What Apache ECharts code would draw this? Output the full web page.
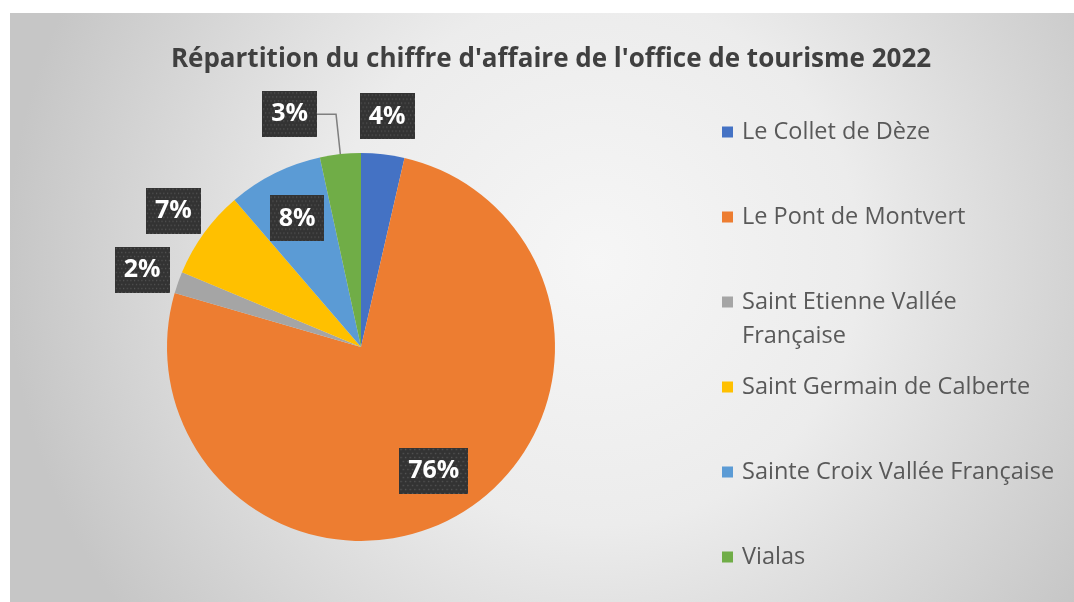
<!DOCTYPE html>
<html>
<head>
<meta charset="utf-8">
<script src="https://cdn.jsdelivr.net/npm/echarts@6/dist/echarts.min.js"></script>
<style>
  html, body { margin: 0; padding: 0; background: #fff; }
  #chart { width: 1074px; height: 602px; }
</style>
</head>
<body>
<div id="chart"></div>
<script>
const communes = ['Le Collet de Dèze', 'Le Pont de Montvert', 'Saint Etienne Vallée Française', 'Saint Germain de Calberte', 'Sainte Croix Vallée Française', 'Vialas'];
const shares = [3.6, 75.9, 1.8, 7.4, 7.9, 3.4];
const colors = ['#4472C4', '#ED7D31', '#A5A5A5', '#FFC000', '#5B9BD5', '#70AD47'];

// where each label goes (like Excel "best fit")
const labelMode = ['radial', 'inside', 'radial', 'radial', 'inside', 'leader'];
const wrappedLegend = ['Saint Etienne Vallée Française'];

const pieCenter = [361, 347];
const pieRadius = 194;
const insideRatio = 0.74;

// dark dotted fill of the data labels
function makeDots() {
  const c = document.createElement('canvas');
  c.width = 60; c.height = 46;
  const ctx = c.getContext('2d');
  ctx.fillStyle = '#333333';
  ctx.fillRect(0, 0, c.width, c.height);
  ctx.fillStyle = '#575757';
  for (let y = 1; y < c.height; y += 4) {
    for (let x = (y % 8 === 1 ? 1 : 3); x < c.width; x += 4) {
      ctx.fillRect(x, y, 1.3, 1.3);
    }
  }
  return c;
}
const dots = makeDots();

const pieData = communes.map((name, i) => {
  const item = { name: name, value: shares[i], itemStyle: { color: colors[i] } };
  const mode = labelMode[i];
  if (mode === 'inside') {
    item.label = { position: 'inside' };
    item.labelLine = { show: false };
  } else if (mode === 'radial') {
    item.label = { position: 'outside' };
    item.labelLine = { show: true, length: 38, length2: 0, lineStyle: { opacity: 0 } };
  } else {
    item.label = { position: 'outside', distanceToLabelLine: 0 };
    item.labelLine = { show: true, length: 40, length2: 19, lineStyle: { color: '#7f7f7f', width: 1.5 } };
  }
  return item;
});

const chart = echarts.init(document.getElementById('chart'), null, { renderer: 'canvas' });

chart.setOption({
  animation: false,
  graphic: [{
    type: 'rect',
    left: 10,
    top: 13,
    silent: true,
    z: -10,
    shape: { width: 1064, height: 589 },
    style: {
      fill: {
        type: 'radial', x: 0.55, y: 0.42, r: 1,
        colorStops: [
          { offset: 0, color: '#f6f6f6' },
          { offset: 0.45, color: '#ececec' },
          { offset: 1, color: '#c6c6c6' }
        ]
      }
    }
  }],
  title: {
    text: "Répartition du chiffre d'affaire de l'office de tourisme 2022",
    left: 551,
    textAlign: 'center',
    top: 47,
    padding: 0,
    textStyle: { fontFamily: 'Open Sans', fontSize: 26, fontWeight: 'bold', color: '#404040' }
  },
  legend: {
    orient: 'vertical',
    left: 722,
    top: 81,
    height: 580,
    padding: 0,
    itemGap: -17,
    itemWidth: 11,
    itemHeight: 11,
    icon: 'rect',
    selectedMode: false,
    // a wrapped entry keeps its first line level with the marker, as in Excel
    formatter: name => wrappedLegend.indexOf(name) >= 0 ? '\n' + name : name,
    textStyle: {
      fontFamily: 'Open Sans', fontSize: 23.5, color: '#595959',
      lineHeight: 34, padding: [34, 0, 34, 4]
    },
    data: communes.map(name => wrappedLegend.indexOf(name) >= 0
      ? { name: name, textStyle: { width: 260, overflow: 'break', padding: [0, 0, 0, 4] } }
      : name)
  },
  series: [{
    type: 'pie',
    center: pieCenter,
    radius: pieRadius,
    startAngle: 90,
    percentPrecision: 0,
    avoidLabelOverlap: false,
    data: pieData,
    label: {
      formatter: '{d}%',
      color: '#ffffff',
      fontFamily: 'Open Sans',
      fontWeight: 'bold',
      fontSize: 25,
      lineHeight: 30,
      padding: [8, 9, 8, 9],
      backgroundColor: { image: dots },
      shadowColor: 'rgba(0,0,0,0.45)',
      shadowBlur: 5,
      shadowOffsetX: 2,
      shadowOffsetY: 2
    },
    emphasis: { disabled: true },
    labelLayout: function (params) {
      const mode = labelMode[params.dataIndex];
      const r = params.labelRect;
      if (mode === 'inside') {
        const mx = r.x + r.width / 2 - pieCenter[0];
        const my = r.y + r.height / 2 - pieCenter[1];
        const k = insideRatio * pieRadius / Math.sqrt(mx * mx + my * my);
        return { x: pieCenter[0] + mx * k, y: pieCenter[1] + my * k, align: 'center', verticalAlign: 'middle' };
      }
      if (mode === 'radial' && params.labelLinePoints) {
        const end = params.labelLinePoints[2];
        return { x: end[0], y: end[1], align: 'center', verticalAlign: 'middle' };
      }
      return {};
    }
  }]
});
</script>
</body>
</html>
